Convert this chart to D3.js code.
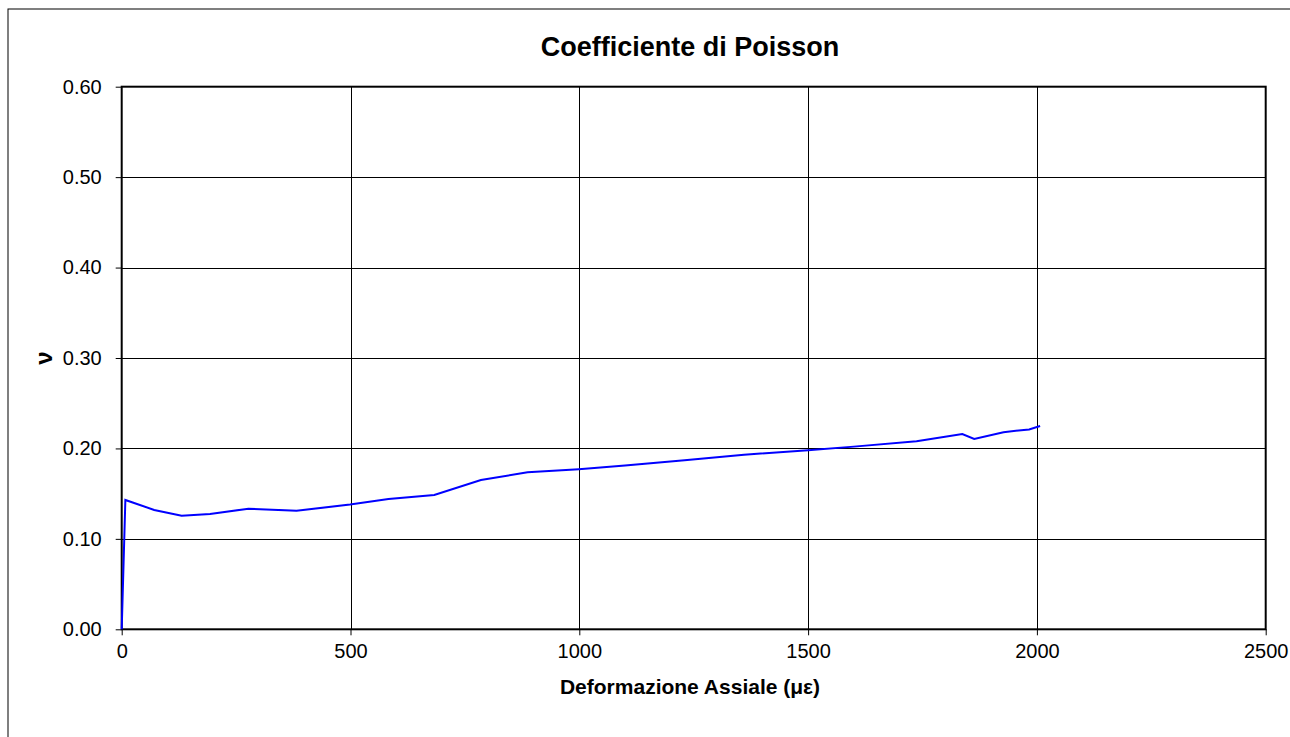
<!DOCTYPE html>
<html><head><meta charset="utf-8">
<script src="https://cdn.jsdelivr.net/npm/d3@7"></script>
<style>body{margin:0;background:#fff}svg{display:block}text{font-family:"Liberation Sans",Arial,sans-serif}</style>
</head><body><svg id="c" width="1290" height="737"></svg>
<script>
const strain = [0, 8, 71, 131, 193, 277, 382, 499, 583, 683, 785, 887, 999, 1100, 1230, 1360, 1500, 1600, 1737, 1837, 1863, 1927, 1983, 2007];
const nu     = [0, 0.143, 0.132, 0.1256, 0.1275, 0.1334, 0.131, 0.138, 0.144, 0.1485, 0.165, 0.1736, 0.177, 0.181, 0.187, 0.193, 0.198, 0.202, 0.208, 0.216, 0.2105, 0.218, 0.221, 0.2248];
const xTicks = [0, 500, 1000, 1500, 2000, 2500];
const yTicks = [0, 0.1, 0.2, 0.3, 0.4, 0.5, 0.6];

const svg = d3.select("#c");
const L = 121.7, R = 1265.7, T = 86.7, B = 629.3;
const x = d3.scaleLinear().domain([0, 2500]).range([L, R]);
const y = d3.scaleLinear().domain([0, 0.6]).range([B, T]);

svg.append("rect").attr("x", 8).attr("y", 9).attr("width", 1290).attr("height", 740)
  .attr("fill", "none").attr("stroke", "#000").attr("stroke-width", 1);

// grid
svg.append("g").selectAll("line").data(yTicks.slice(1, -1)).join("line")
  .attr("x1", L).attr("x2", R).attr("y1", d => Math.round(y(d)) + 0.5).attr("y2", d => Math.round(y(d)) + 0.5)
  .attr("stroke", "#000").attr("stroke-width", 1);
svg.append("g").selectAll("line").data(xTicks.slice(1, -1)).join("line")
  .attr("y1", T).attr("y2", B).attr("x1", d => Math.round(x(d)) + 0.5).attr("x2", d => Math.round(x(d)) + 0.5)
  .attr("stroke", "#000").attr("stroke-width", 1);

// axes
const xa = svg.append("g").attr("transform", `translate(0,${B})`)
  .call(d3.axisBottom(x).tickValues(xTicks).tickFormat(d3.format("d")).tickSize(6).tickPadding(9));
const ya = svg.append("g").attr("transform", `translate(${L},0)`)
  .call(d3.axisLeft(y).tickValues(yTicks).tickFormat(d3.format(".2f")).tickSize(6).tickPadding(14));
[xa, ya].forEach(g => {
  g.select(".domain").remove();
  g.attr("font-size", null).attr("font-family", null);
  g.selectAll("text").attr("font-size", 20).attr("fill", "#000");
  g.selectAll("line").attr("stroke", "#000");
});

// plot border
svg.append("rect").attr("x", L).attr("y", T).attr("width", R - L).attr("height", B - T)
  .attr("fill", "none").attr("stroke", "#000").attr("stroke-width", 2);

// line
const line = d3.line().x((d, i) => x(strain[i])).y(d => y(d));
svg.append("path").datum(nu).attr("d", line).attr("fill", "none")
  .attr("stroke", "#0000ff").attr("stroke-width", 2);

// titles
svg.append("text").attr("x", 690).attr("y", 56).attr("text-anchor", "middle")
  .attr("font-size", 27).attr("font-weight", "bold").text("Coefficiente di Poisson");
svg.append("text").attr("x", 690).attr("y", 694).attr("text-anchor", "middle")
  .attr("font-size", 21).attr("font-weight", "bold").text("Deformazione Assiale (με)");
svg.append("text").attr("transform", "translate(52,358) rotate(-90)").attr("text-anchor", "middle")
  .attr("font-size", 24).attr("font-weight", "bold").text("ν");
</script></body></html>
